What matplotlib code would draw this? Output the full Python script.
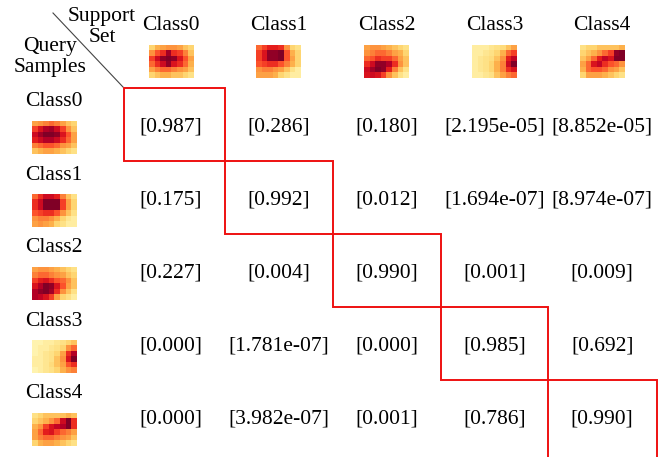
import numpy as np
import matplotlib
matplotlib.use("Agg")
import matplotlib.pyplot as plt
from matplotlib.patches import Rectangle
from matplotlib.colors import PowerNorm

plt.rcParams["font.family"] = ["Liberation Serif", "DejaVu Serif"]
SERIF = "Liberation Serif"

classes = ["Class0", "Class1", "Class2", "Class3", "Class4"]

# similarity scores: rows = query samples, columns = support set
scores = [
    ["[0.987]", "[0.286]", "[0.180]", "[2.195e-05]", "[8.852e-05]"],
    ["[0.175]", "[0.992]", "[0.012]", "[1.694e-07]", "[8.974e-07]"],
    ["[0.227]", "[0.004]", "[0.990]", "[0.001]", "[0.009]"],
    ["[0.000]", "[1.781e-07]", "[0.000]", "[0.985]", "[0.692]"],
    ["[0.000]", "[3.982e-07]", "[0.001]", "[0.786]", "[0.990]"],
]

# 6x8 activation maps for the support set
support_maps = [
    [[0.15, 0.25, 0.30, 0.35, 0.35, 0.30, 0.20, 0.15],
     [0.35, 0.50, 0.60, 0.90, 0.60, 0.55, 0.40, 0.20],
     [0.55, 0.75, 0.95, 1.00, 0.95, 0.70, 0.50, 0.30],
     [0.45, 0.60, 0.75, 0.95, 0.70, 0.60, 0.45, 0.25],
     [0.30, 0.40, 0.45, 0.45, 0.40, 0.35, 0.30, 0.20],
     [0.15, 0.20, 0.25, 0.25, 0.20, 0.20, 0.15, 0.10]],
    [[0.45, 0.55, 0.65, 0.65, 0.60, 0.35, 0.15, 0.10],
     [0.55, 0.70, 0.95, 0.95, 1.00, 0.50, 0.25, 0.15],
     [0.55, 0.70, 0.95, 0.95, 1.00, 0.50, 0.30, 0.15],
     [0.50, 0.55, 0.60, 0.60, 0.50, 0.40, 0.25, 0.15],
     [0.35, 0.40, 0.40, 0.35, 0.30, 0.20, 0.10, 0.05],
     [0.30, 0.30, 0.30, 0.25, 0.15, 0.10, 0.05, 0.05]],
    [[0.30, 0.35, 0.35, 0.30, 0.25, 0.20, 0.15, 0.10],
     [0.35, 0.40, 0.45, 0.45, 0.40, 0.30, 0.25, 0.15],
     [0.45, 0.50, 0.60, 0.55, 0.55, 0.45, 0.30, 0.20],
     [0.60, 0.75, 0.95, 0.95, 0.85, 0.60, 0.35, 0.20],
     [0.75, 0.90, 1.00, 0.95, 0.65, 0.40, 0.20, 0.10],
     [0.70, 0.75, 0.70, 0.55, 0.35, 0.20, 0.10, 0.05]],
    [[0.05, 0.05, 0.05, 0.08, 0.10, 0.12, 0.20, 0.30],
     [0.05, 0.05, 0.08, 0.10, 0.15, 0.25, 0.45, 0.55],
     [0.05, 0.08, 0.10, 0.12, 0.20, 0.35, 0.65, 0.80],
     [0.05, 0.08, 0.10, 0.15, 0.25, 0.40, 0.75, 1.00],
     [0.05, 0.08, 0.10, 0.15, 0.25, 0.40, 0.60, 0.70],
     [0.05, 0.05, 0.08, 0.10, 0.20, 0.30, 0.40, 0.45]],
    [[0.10, 0.15, 0.15, 0.20, 0.20, 0.20, 0.20, 0.25],
     [0.15, 0.20, 0.25, 0.35, 0.45, 0.55, 0.95, 1.00],
     [0.20, 0.30, 0.45, 0.65, 0.80, 0.70, 1.00, 1.00],
     [0.30, 0.45, 0.70, 0.80, 0.60, 0.50, 0.45, 0.35],
     [0.25, 0.45, 0.50, 0.50, 0.45, 0.35, 0.30, 0.20],
     [0.15, 0.30, 0.30, 0.30, 0.25, 0.20, 0.15, 0.10]],
]

# 6x8 activation maps for the query samples
query_maps = [
    [[0.30, 0.35, 0.40, 0.45, 0.40, 0.30, 0.20, 0.15],
     [0.55, 0.70, 0.85, 0.90, 0.75, 0.55, 0.35, 0.20],
     [0.75, 0.90, 1.00, 1.00, 0.95, 0.70, 0.50, 0.30],
     [0.65, 0.75, 0.85, 0.85, 0.75, 0.60, 0.45, 0.30],
     [0.40, 0.45, 0.50, 0.50, 0.45, 0.35, 0.30, 0.20],
     [0.20, 0.25, 0.30, 0.30, 0.25, 0.20, 0.15, 0.10]],
    [[0.45, 0.60, 0.75, 0.75, 0.65, 0.40, 0.20, 0.10],
     [0.60, 0.75, 1.00, 1.00, 1.00, 0.55, 0.30, 0.15],
     [0.60, 0.75, 1.00, 1.00, 1.00, 0.55, 0.30, 0.15],
     [0.50, 0.55, 0.60, 0.60, 0.50, 0.35, 0.20, 0.10],
     [0.35, 0.40, 0.40, 0.35, 0.25, 0.15, 0.08, 0.05],
     [0.30, 0.35, 0.30, 0.25, 0.15, 0.10, 0.05, 0.05]],
    [[0.30, 0.35, 0.35, 0.30, 0.25, 0.20, 0.15, 0.10],
     [0.40, 0.45, 0.45, 0.40, 0.35, 0.30, 0.20, 0.15],
     [0.55, 0.65, 0.70, 0.60, 0.50, 0.45, 0.35, 0.20],
     [0.70, 0.85, 1.00, 0.95, 0.70, 0.50, 0.30, 0.20],
     [0.85, 0.95, 1.00, 0.90, 0.60, 0.35, 0.20, 0.10],
     [0.85, 0.80, 0.70, 0.55, 0.30, 0.15, 0.10, 0.05]],
    [[0.03, 0.03, 0.05, 0.05, 0.08, 0.10, 0.15, 0.20],
     [0.03, 0.05, 0.05, 0.08, 0.10, 0.15, 0.35, 0.45],
     [0.03, 0.05, 0.08, 0.10, 0.15, 0.30, 0.60, 0.85],
     [0.05, 0.05, 0.08, 0.10, 0.20, 0.35, 0.70, 1.00],
     [0.05, 0.05, 0.08, 0.12, 0.20, 0.30, 0.50, 0.60],
     [0.03, 0.05, 0.08, 0.10, 0.15, 0.25, 0.35, 0.40]],
    [[0.10, 0.15, 0.20, 0.20, 0.20, 0.20, 0.25, 0.20],
     [0.15, 0.20, 0.25, 0.35, 0.45, 0.75, 1.00, 0.60],
     [0.25, 0.35, 0.55, 0.70, 0.80, 0.85, 1.00, 0.60],
     [0.30, 0.45, 0.65, 0.70, 0.55, 0.45, 0.40, 0.30],
     [0.30, 0.40, 0.45, 0.45, 0.40, 0.35, 0.30, 0.20],
     [0.15, 0.25, 0.30, 0.30, 0.25, 0.20, 0.15, 0.10]],
]

W, H = 670, 457
fig = plt.figure(figsize=(W / 100, H / 100), dpi=100)
ax = fig.add_axes([0, 0, 1, 1])
ax.set_xlim(0, W)
ax.set_ylim(H, 0)
ax.axis("off")

fs = 15.5
n = len(classes)
norm = PowerNorm(gamma=0.7, vmin=0, vmax=1)

# grid geometry (pixel units)
col_x0, col_dx = 171, 107.8
row_y0, row_dy = 127, 73.0
map_w, map_h = 45, 33
box_y0 = 88

col_x = [col_x0 + col_dx * j for j in range(n)]
row_y = [row_y0 + row_dy * i for i in range(n)]

# frame edges sit halfway between neighbouring columns
box_edges = ([col_x[0] - 47]
             + [(col_x[k] + col_x[k + 1]) / 2 for k in range(n - 1)]
             + [col_x[-1] + 55])


def label(x, y, s, **kw):
    ax.text(x, y, s, ha="center", va="center", fontsize=fs, family=SERIF, **kw)


def draw_map(data, xc, yc):
    arr = np.asarray(data)
    ax.imshow(arr, cmap="YlOrRd", norm=norm, interpolation="nearest",
              extent=(xc - map_w / 2, xc + map_w / 2, yc + map_h / 2, yc - map_h / 2),
              aspect="auto", zorder=2)


# header: support set classes
for j, name in enumerate(classes):
    label(col_x[j], 26, name)
    draw_map(support_maps[j], col_x[j], 61.5)

# left column: query samples
for i, name in enumerate(classes):
    label(54, row_y[i] - 25, name)
    draw_map(query_maps[i], 54.5, row_y[i] + 11)

# score cells
for i in range(n):
    for j in range(n):
        label(col_x[j], row_y[i], scores[i][j])

# corner header with diagonal divider
ax.plot([53, 123], [13, 87], color="#444444", lw=0.8, zorder=1)
label(102, 27, "Support\nSet", linespacing=1.15)
label(50, 57, "Query\nSamples", linespacing=1.15)

# red frames on the diagonal (matching class pairs)
for k in range(n):
    left, right = box_edges[k], box_edges[k + 1]
    top = box_y0 + row_dy * k
    bottom = top + row_dy if k < n - 1 else H + 5
    ax.add_patch(Rectangle((left, top), right - left, bottom - top, fill=False,
                           edgecolor="#ee1111", lw=1.4, zorder=3))

ax.set_xlim(0, W)
ax.set_ylim(H, 0)
fig.savefig("out.png", dpi=100)
